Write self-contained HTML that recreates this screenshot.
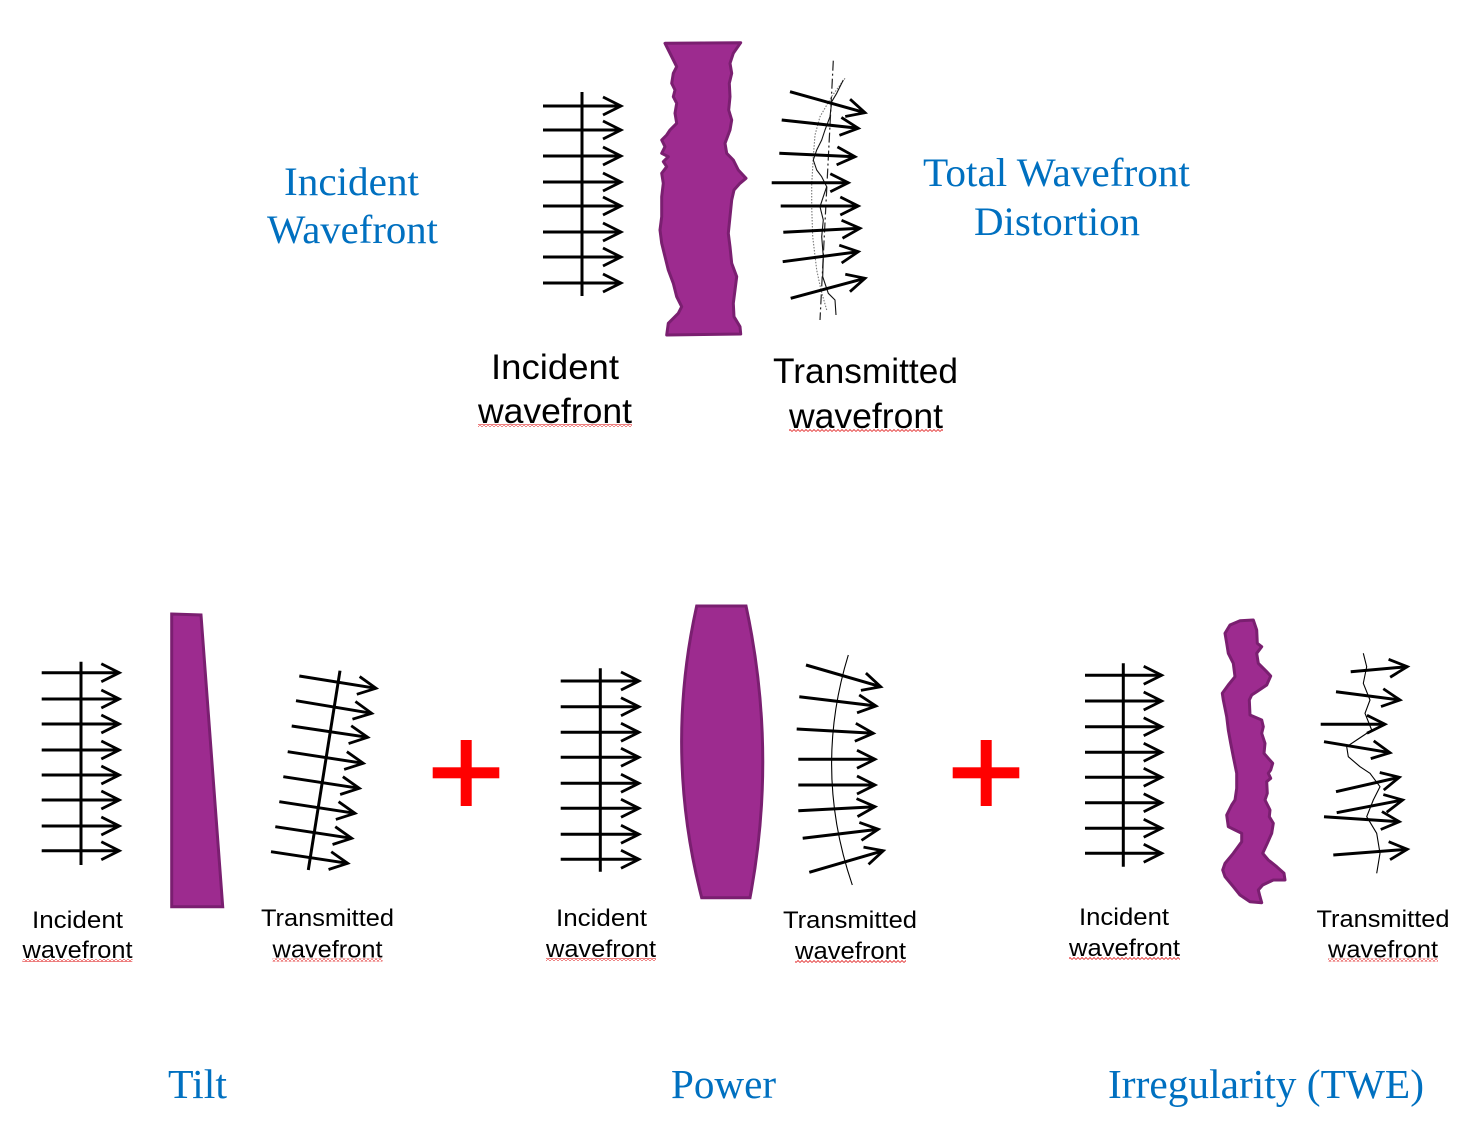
<!DOCTYPE html>
<html>
<head>
<meta charset="utf-8">
<style>
html,body{margin:0;padding:0;background:#fff;}
svg{display:block;}
.b{font-family:"Liberation Serif",serif;fill:#0070C0;}
.k{font-family:"Liberation Sans",sans-serif;fill:#000;}
</style>
</head>
<body>
<svg width="1471" height="1147" viewBox="0 0 1471 1147" xmlns="http://www.w3.org/2000/svg">
<defs>
<marker id="a" markerUnits="userSpaceOnUse" orient="auto" markerWidth="30" markerHeight="30" refX="0" refY="0" viewBox="-25 -15 30 30" overflow="visible">
<path d="M-18,-9 L0,0 L-18,9" fill="none" stroke="#000" stroke-width="2.8"/>
</marker>
<pattern id="sq" width="4" height="3" patternUnits="userSpaceOnUse">
<path d="M0,2.5 L2,0.5 L4,2.5" stroke="#e43b3b" stroke-width="0.9" fill="none"/>
</pattern>
</defs>

<!-- ===== TOP ===== -->
<text class="b" x="284" y="195" font-size="40" textLength="135" lengthAdjust="spacingAndGlyphs">Incident</text>
<text class="b" x="267" y="243" font-size="40" textLength="171" lengthAdjust="spacingAndGlyphs">Wavefront</text>
<text class="b" x="923" y="186" font-size="40" textLength="267" lengthAdjust="spacingAndGlyphs">Total Wavefront</text>
<text class="b" x="974" y="235" font-size="40" textLength="166" lengthAdjust="spacingAndGlyphs">Distortion</text>

<g stroke="#000" stroke-width="3" fill="none">
<line x1="582" y1="92" x2="582" y2="296"/>
<line x1="543" y1="106" x2="621" y2="106" marker-end="url(#a)"/>
<line x1="543" y1="130" x2="621" y2="130" marker-end="url(#a)"/>
<line x1="543" y1="156" x2="621" y2="156" marker-end="url(#a)"/>
<line x1="543" y1="182" x2="621" y2="182" marker-end="url(#a)"/>
<line x1="543" y1="206" x2="621" y2="206" marker-end="url(#a)"/>
<line x1="543" y1="232" x2="621" y2="232" marker-end="url(#a)"/>
<line x1="543" y1="257" x2="621" y2="257" marker-end="url(#a)"/>
<line x1="543" y1="283" x2="621" y2="283" marker-end="url(#a)"/>
</g>

<polygon fill="#9D2B8F" stroke="#7A1F70" stroke-width="3" stroke-linejoin="round" points="665,43.3 740.7,42.7 733.3,53.3 730,63.3 731.7,73.3 729.3,83.3 730,96.7 728.7,110 731.7,120 730,130 725,143.3 726.7,153.3 733.3,160 738.3,170 746,178.3 740,183.3 734,190 731.7,200 730,216.7 728.3,233.3 730,246.7 731.7,263.3 736.7,276.7 735,290 733.3,303.3 734,316.7 740,326.7 740.7,334 666.7,335 668.3,323.3 678.3,313.3 681.7,306.7 676.7,296.7 673.3,283.3 668.3,270 665,256.7 661.7,243.3 660,230 661.7,216.7 661.7,196.7 663.3,183.3 661.7,173.3 666.7,166.7 663.3,161.7 668.3,156.7 661.7,153.3 665,146.7 661.7,140 666.7,135 670,130 676.7,123.3 675,113.3 676.7,103.3 673.3,96.7 675,90 671.7,83.3 673.3,73.3 676.7,66.7 671.7,56.7"/>

<!-- top transmitted decorations -->
<line x1="833.3" y1="60.7" x2="820" y2="320" stroke="#222" stroke-width="1.2" stroke-dasharray="10,3,2,3"/>
<polyline fill="none" stroke="#777" stroke-width="1.1" stroke-dasharray="1.5,1.5" points="845,78.3 832,96 820,116.7 815,135 813.3,156.7 811.7,185 811.7,206.7 812.7,236.7 816.7,270 821,290 826.7,310"/>
<polyline fill="none" stroke="#111" stroke-width="1.1" stroke-linejoin="round" points="843.3,80 836.7,93.3 831.7,101.7 830,116.7 825,130 821.7,140 816.7,150 813.3,160 816.7,170 821.7,176.7 826.7,186.7 823.3,196.7 820,206.7 823.3,220 821.7,236.7 823.3,256.7 822.7,276.7 828.3,293.3 835,300 836,315"/>
<g stroke="#000" stroke-width="3" fill="none">
<line x1="790" y1="91.7" x2="865" y2="112.7" marker-end="url(#a)"/>
<line x1="781.7" y1="120" x2="858.3" y2="128.3" marker-end="url(#a)"/>
<line x1="779.3" y1="153.3" x2="855" y2="156.7" marker-end="url(#a)"/>
<line x1="771.7" y1="182.7" x2="848.3" y2="182.7" marker-end="url(#a)"/>
<line x1="780.7" y1="206" x2="858.3" y2="206" marker-end="url(#a)"/>
<line x1="783.3" y1="232.3" x2="860" y2="228.3" marker-end="url(#a)"/>
<line x1="782.7" y1="261.7" x2="858.3" y2="251.7" marker-end="url(#a)"/>
<line x1="790.7" y1="298.3" x2="865" y2="278.3" marker-end="url(#a)"/>
</g>

<text class="k" x="491" y="379" font-size="35" textLength="128" lengthAdjust="spacingAndGlyphs">Incident</text>
<text class="k" x="478" y="423" font-size="35" textLength="154" lengthAdjust="spacingAndGlyphs">wavefront</text>
<rect x="478" y="424" width="154" height="3" fill="url(#sq)"/>
<text class="k" x="773" y="383" font-size="35" textLength="185" lengthAdjust="spacingAndGlyphs">Transmitted</text>
<text class="k" x="789" y="428" font-size="35" textLength="154" lengthAdjust="spacingAndGlyphs">wavefront</text>
<rect x="789" y="429" width="154" height="3" fill="url(#sq)"/>

<!-- ===== PANEL 1: TILT ===== -->
<g stroke="#000" stroke-width="3" fill="none">
<line x1="81" y1="661.7" x2="81" y2="865"/>
<line x1="41.7" y1="672.7" x2="119.3" y2="672.7" marker-end="url(#a)"/>
<line x1="41.7" y1="699" x2="119.3" y2="699" marker-end="url(#a)"/>
<line x1="41.7" y1="724" x2="119.3" y2="724" marker-end="url(#a)"/>
<line x1="41.7" y1="750" x2="119.3" y2="750" marker-end="url(#a)"/>
<line x1="41.7" y1="775" x2="119.3" y2="775" marker-end="url(#a)"/>
<line x1="41.7" y1="800" x2="119.3" y2="800" marker-end="url(#a)"/>
<line x1="41.7" y1="826" x2="119.3" y2="826" marker-end="url(#a)"/>
<line x1="41.7" y1="850.7" x2="119.3" y2="850.7" marker-end="url(#a)"/>
</g>
<polygon fill="#9D2B8F" stroke="#7A1F70" stroke-width="3" points="171.7,614 201,615 222.7,906.7 171.7,906.7"/>
<g stroke="#000" stroke-width="3" fill="none">
<line x1="340" y1="670.7" x2="308.3" y2="870"/>
<line x1="299.3" y1="676" x2="376" y2="688.3" marker-end="url(#a)"/>
<line x1="296" y1="700.7" x2="371.7" y2="713.3" marker-end="url(#a)"/>
<line x1="291.7" y1="726" x2="367.7" y2="737.3" marker-end="url(#a)"/>
<line x1="287.7" y1="751.7" x2="363.3" y2="763.3" marker-end="url(#a)"/>
<line x1="283.3" y1="776.7" x2="359.3" y2="788.3" marker-end="url(#a)"/>
<line x1="279.3" y1="801.7" x2="355" y2="813.3" marker-end="url(#a)"/>
<line x1="275.3" y1="826.7" x2="351.7" y2="838.3" marker-end="url(#a)"/>
<line x1="271" y1="851.7" x2="347.7" y2="863.3" marker-end="url(#a)"/>
</g>
<text class="k" x="32" y="928" font-size="24" textLength="91" lengthAdjust="spacingAndGlyphs">Incident</text>
<text class="k" x="22.5" y="958" font-size="24" textLength="110" lengthAdjust="spacingAndGlyphs">wavefront</text>
<rect x="22.5" y="959" width="110" height="3" fill="url(#sq)"/>
<text class="k" x="261" y="926" font-size="24" textLength="133" lengthAdjust="spacingAndGlyphs">Transmitted</text>
<text class="k" x="272.5" y="957.5" font-size="24" textLength="110" lengthAdjust="spacingAndGlyphs">wavefront</text>
<rect x="272.5" y="958.5" width="110" height="3" fill="url(#sq)"/>

<!-- plus 1 -->
<rect x="432.7" y="767.3" width="66.6" height="11" fill="#FF0000"/>
<rect x="460.7" y="740" width="11" height="66" fill="#FF0000"/>

<!-- ===== PANEL 2: POWER ===== -->
<g stroke="#000" stroke-width="3" fill="none">
<line x1="600.3" y1="668.3" x2="600.3" y2="871.7"/>
<line x1="560.7" y1="681" x2="639" y2="681" marker-end="url(#a)"/>
<line x1="560.7" y1="706.7" x2="639" y2="706.7" marker-end="url(#a)"/>
<line x1="560.7" y1="732.3" x2="639" y2="732.3" marker-end="url(#a)"/>
<line x1="560.7" y1="757.3" x2="639" y2="757.3" marker-end="url(#a)"/>
<line x1="560.7" y1="783.3" x2="639" y2="783.3" marker-end="url(#a)"/>
<line x1="560.7" y1="808.3" x2="639" y2="808.3" marker-end="url(#a)"/>
<line x1="560.7" y1="834.3" x2="639" y2="834.3" marker-end="url(#a)"/>
<line x1="560.7" y1="859.3" x2="639" y2="859.3" marker-end="url(#a)"/>
</g>
<path d="M696.7,606 L746,606 Q777.4,752 750,897.7 L701.7,897.7 Q664.2,752 696.7,606 Z" fill="#9D2B8F" stroke="#7A1F70" stroke-width="3"/>
<path d="M848.3,655 Q813,770 852.3,885" fill="none" stroke="#000" stroke-width="1.1"/>
<g stroke="#000" stroke-width="3" fill="none">
<line x1="806" y1="665" x2="880.7" y2="686.7" marker-end="url(#a)"/>
<line x1="799.3" y1="696.7" x2="876" y2="706" marker-end="url(#a)"/>
<line x1="796.7" y1="729" x2="873.3" y2="733.3" marker-end="url(#a)"/>
<line x1="798.3" y1="759.3" x2="875" y2="759.3" marker-end="url(#a)"/>
<line x1="798.3" y1="785" x2="875" y2="785" marker-end="url(#a)"/>
<line x1="798.3" y1="810.7" x2="875" y2="806.7" marker-end="url(#a)"/>
<line x1="802.7" y1="838.3" x2="878.3" y2="829.3" marker-end="url(#a)"/>
<line x1="809.3" y1="872.3" x2="883.3" y2="850.7" marker-end="url(#a)"/>
</g>
<text class="k" x="556" y="926" font-size="24" textLength="91" lengthAdjust="spacingAndGlyphs">Incident</text>
<text class="k" x="546" y="957" font-size="24" textLength="110" lengthAdjust="spacingAndGlyphs">wavefront</text>
<rect x="546" y="958" width="110" height="3" fill="url(#sq)"/>
<text class="k" x="783" y="928" font-size="24" textLength="134" lengthAdjust="spacingAndGlyphs">Transmitted</text>
<text class="k" x="795" y="959" font-size="24" textLength="111" lengthAdjust="spacingAndGlyphs">wavefront</text>
<rect x="795" y="960" width="111" height="3" fill="url(#sq)"/>

<!-- plus 2 -->
<rect x="952.7" y="767.3" width="66.6" height="11" fill="#FF0000"/>
<rect x="980.7" y="740" width="11" height="66" fill="#FF0000"/>

<!-- ===== PANEL 3: IRREGULARITY ===== -->
<g stroke="#000" stroke-width="3" fill="none">
<line x1="1123.3" y1="663.3" x2="1123.3" y2="866.7"/>
<line x1="1085" y1="675.3" x2="1161.7" y2="675.3" marker-end="url(#a)"/>
<line x1="1085" y1="701" x2="1161.7" y2="701" marker-end="url(#a)"/>
<line x1="1085" y1="726.7" x2="1161.7" y2="726.7" marker-end="url(#a)"/>
<line x1="1085" y1="752.3" x2="1161.7" y2="752.3" marker-end="url(#a)"/>
<line x1="1085" y1="777.3" x2="1161.7" y2="777.3" marker-end="url(#a)"/>
<line x1="1085" y1="802.7" x2="1161.7" y2="802.7" marker-end="url(#a)"/>
<line x1="1085" y1="828.3" x2="1161.7" y2="828.3" marker-end="url(#a)"/>
<line x1="1085" y1="853.3" x2="1161.7" y2="853.3" marker-end="url(#a)"/>
</g>
<polygon fill="#9D2B8F" stroke="#7A1F70" stroke-width="3" stroke-linejoin="round" points="1230,625 1240,620.7 1253.3,620 1256.7,630 1257.3,643.3 1261.7,646.7 1256.7,653.3 1258.3,663.3 1266.7,671.7 1270.7,676 1266.7,685 1256.7,691.7 1251.7,695 1249.3,700 1250,715 1261.7,720 1263.3,726.7 1261.7,733.3 1265,743.3 1264,753.3 1268.3,758.3 1272.7,763.3 1270.7,770 1268.3,773.3 1270.7,778.3 1266.7,781.7 1267.3,793.3 1265,800 1270,810 1269.3,816.7 1273.3,823.3 1271.7,833.3 1267.3,843.3 1262.7,853.3 1268.3,860 1276.7,866.7 1284,873.3 1285,880 1273.3,880 1262.7,885 1258.3,890 1260,896.7 1261.7,902.7 1250,901.7 1240,895 1233.3,886.7 1225,876.7 1222.7,870 1225,863.3 1233.3,853.3 1241.7,841.7 1241.7,833.3 1235,830 1228.3,826.7 1226.7,815 1231.7,805 1235,800 1236.7,788.3 1236.7,773.3 1233.3,756.7 1230.7,743.3 1228.3,730 1226.7,716.7 1223.3,700 1222.3,693.3 1228.3,685 1235,676.7 1233.3,663.3 1228.3,653.3 1226.7,643.3 1225,633.3"/>
<polyline fill="none" stroke="#000" stroke-width="1.1" stroke-linejoin="round" points="1363.3,653.3 1366.7,666.7 1363.3,683.3 1370,700 1365,713.3 1371.7,730 1356.7,740 1346.7,746.7 1348.3,756.7 1360,766.7 1370,773.3 1380,786.7 1373.3,800 1366.7,816.7 1376.7,833.3 1380,853.3 1376.7,873.3"/>
<g stroke="#000" stroke-width="3" fill="none">
<line x1="1350.7" y1="671.7" x2="1407.3" y2="666.7" marker-end="url(#a)"/>
<line x1="1336" y1="691.7" x2="1400" y2="700" marker-end="url(#a)"/>
<line x1="1320.7" y1="724.3" x2="1385" y2="724.3" marker-end="url(#a)"/>
<line x1="1324" y1="741.7" x2="1390" y2="752.7" marker-end="url(#a)"/>
<line x1="1336" y1="791.7" x2="1399.3" y2="777.3" marker-end="url(#a)"/>
<line x1="1336.7" y1="812.7" x2="1402.7" y2="800" marker-end="url(#a)"/>
<line x1="1324" y1="816.7" x2="1399.3" y2="821.7" marker-end="url(#a)"/>
<line x1="1333.3" y1="855" x2="1407.3" y2="849.3" marker-end="url(#a)"/>
</g>
<text class="k" x="1079" y="925" font-size="24" textLength="90" lengthAdjust="spacingAndGlyphs">Incident</text>
<text class="k" x="1069" y="956" font-size="24" textLength="111" lengthAdjust="spacingAndGlyphs">wavefront</text>
<rect x="1069" y="957" width="111" height="3" fill="url(#sq)"/>
<text class="k" x="1316.5" y="927" font-size="24" textLength="133" lengthAdjust="spacingAndGlyphs">Transmitted</text>
<text class="k" x="1328" y="957.5" font-size="24" textLength="110" lengthAdjust="spacingAndGlyphs">wavefront</text>
<rect x="1328" y="958.5" width="110" height="3" fill="url(#sq)"/>

<!-- bottom titles -->
<text class="b" x="168" y="1098" font-size="41" textLength="59" lengthAdjust="spacingAndGlyphs">Tilt</text>
<text class="b" x="671" y="1098" font-size="41" textLength="105" lengthAdjust="spacingAndGlyphs">Power</text>
<text class="b" x="1108" y="1098" font-size="41" textLength="316" lengthAdjust="spacingAndGlyphs">Irregularity (TWE)</text>
</svg>
</body>
</html>
